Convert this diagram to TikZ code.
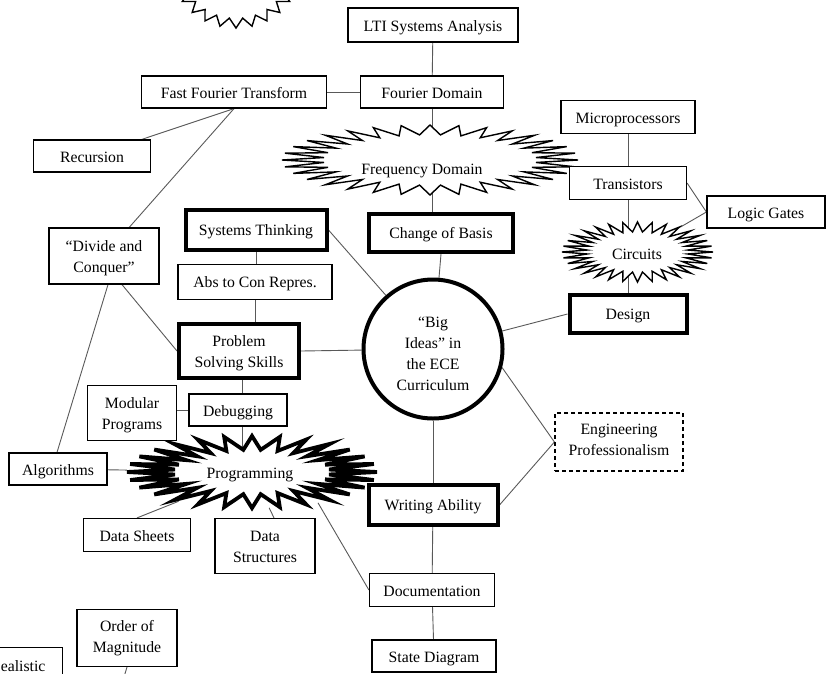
\documentclass[tikz,border=0pt]{standalone}
\usepackage{fontspec}
\setmainfont{Liberation Serif}
\usetikzlibrary{shapes.geometric}
\pgfdeclarelayer{background}
\pgfsetlayers{background,main}
\newcommand\burstshape[6]{%
  \pgfmathsetmacro\bxi{#2*#4}\pgfmathsetmacro\byi{#3*#4}%
  \begin{scope}[shift={(#1)}]
  \draw[#6] (#2,0) \foreach \j in {1,...,#5}{ -- ({\bxi*cos((\j-0.5)*360/#5)},{\byi*sin((\j-0.5)*360/#5)}) -- ({#2*cos(\j*360/#5)},{#3*sin(\j*360/#5)})} -- cycle;
  \end{scope}}
\begin{document}
\begin{tikzpicture}[x=1pt,y=-1pt,
  every node/.style={font=\fontsize{15.75}{20.7}\selectfont, align=center, inner sep=0pt},
  box/.style={draw, line width=1.2pt, fill=white, text height=13pt, text depth=0pt},
  bold/.style={draw, line width=4pt, fill=white, text height=10.5pt, text depth=0pt},
  two/.style={text height=32pt, text depth=0pt},
  dashbox/.style={draw, line width=1.2pt, fill=white, dash pattern=on 4pt off 3pt},
  sz/.style 2 args={minimum width=#1pt, minimum height=#2pt},
  link/.style={draw=black!65, line width=0.9pt},
  burstarea/.style 2 args={ellipse, minimum width=#1pt, minimum height=#2pt},
  thinburst/.style={draw=black, fill=white, line width=1.4pt, line join=miter},
  heavyburst/.style={draw=black, fill=white, line width=3.8pt, line join=miter}
]
\useasboundingbox (0,0) rectangle (834,673);

% boxes
\node[box,sz={170}{34}] (lti) at (433,25) {LTI Systems Analysis};
\node[box,sz={143}{32}] (fourier) at (432,92) {Fourier Domain};
\node[box,sz={185}{32}] (fft) at (234,92) {Fast Fourier Transform};
\node[box,sz={117}{32}] (rec) at (92,156) {Recursion};
\node[box,sz={134}{33}] (micro) at (628,117) {Microprocessors};
\node[box,sz={117}{33}] (trans) at (628,183) {Transistors};
\node[box,sz={118}{32}] (logic) at (766,212) {Logic Gates};
\node[bold,sz={117}{38}] (design) at (628,314) {Design};
\node[bold,sz={144}{38}] (basis) at (441,233) {Change of Basis};
\node[bold,sz={141}{40}] (systems) at (256,230) {Systems Thinking};
\node[box,sz={154}{35},text height=11pt] (abs) at (255,282) {Abs to Con Repres.};
\node[bold,two,sz={120}{54}] (problem) at (239,351) {Problem\\Solving Skills};
\node[circle,draw,line width=4pt,fill=white,minimum size=139pt,text height=82pt,text depth=0pt] (big) at (433,349) {“Big\\Ideas” in\\the ECE\\Curriculum};
\node[box,two,sz={110}{56}] (divide) at (104,256) {“Divide and\\Conquer”};
\node[box,two,sz={89}{55}] (modular) at (132,413) {Modular\\Programs};
\node[box,sz={98}{32}] (debug) at (238,410) {Debugging};
\node[box,sz={98}{32}] (algo) at (58,469) {Algorithms};
\node[box,sz={107}{33}] (sheets) at (137,535) {Data Sheets};
\node[box,two,sz={100}{55}] (struct) at (265,546) {Data\\Structures};
\node[box,sz={125}{33}] (doc) at (432,590) {Documentation};
\node[bold,sz={129}{40}] (writing) at (433,505) {Writing Ability};
\node[box,sz={124}{32}] (state) at (434,656) {State Diagram};
\node[dashbox,text height=26pt,text depth=0pt,sz={128}{58}] (eng) at (619,442) {Engineering\\Professionalism};
\node[box,text height=29pt,text depth=0pt,sz={100}{57}] (order) at (127,638) {Order of\\Magnitude};
\node[box,anchor=north east,inner xsep=17pt,minimum height=34pt] (real) at (63,647) {ealistic};

% starburst areas and labels
\node[burstarea={296}{70}] (freq) at (430,160) {};
\node[anchor=base] (freqtext) at (422,174) {Frequency Domain};
\node[burstarea={151}{60}] (circ) at (637.5,252) {};
\node[anchor=base] (circtext) at (637,259) {Circuits};
\node[burstarea={250}{72}] (prog) at (252,472) {};
\node[anchor=base] (progtext) at (250,478) {Programming};
\coordinate (tl) at (236,-25);
\coordinate (orderend) at (120,690);

\begin{pgfonlayer}{background}
\begin{scope}
\clip (0,0) rectangle (834,673);
% connectors
\draw[link] (lti) -- (fourier);
\draw[link] (fft) -- (fourier);
\draw[link] (fft.south) -- (rec);
\draw[link] (fft.south) -- (divide);
\draw[link] (fourier.south) -- (fourier.south |- basis.north);
\draw[link] (basis.south) -- (big);
\draw[link] (micro) -- (trans);
\draw[link] (trans) -- (design);
\draw[link] (trans.east) -- (logic.west);
\draw[link] (logic.west) -- (circ);
\draw[link] (design.west) -- (big);
\draw[link] (systems.east) -- (big);
\draw[link] (systems.south) -- (systems.south |- abs.north);
\draw[link] (abs.south) -- (abs.south |- problem.north);
\draw[link] (problem.east) -- (big);
\draw[link] ([xshift=18pt]divide.south) -- (problem.west);
\draw[link] ([xshift=4pt]divide.south) -- ([xshift=-1pt]algo.north);
\draw[link] ([xshift=3pt]problem.south) -- ([xshift=4pt]debug.north);
\draw[link] (modular.east |- debug) -- (debug.west);
\draw[link] ([xshift=4pt]debug.south) -- ([xshift=4pt]debug.south |- prog.center);
\draw[link] (algo) -- (prog);
\draw[link] (sheets.north) -- (prog);
\draw[link] ([xshift=9pt]struct.north) -- (prog);
\draw[link] (prog.-25) -- (doc.west);
\draw[link] (big) -- (writing);
\draw[link] (writing) -- (doc);
\draw[link] (doc) -- (state);
\draw[link] (big.-15) -- (eng.west);
\draw[link] (writing.east) -- (eng.west);
\draw[link] (order.south) -- (orderend);
% starbursts
\burstshape{freq}{148}{35}{0.72}{32}{thinburst}
\burstshape{circ}{75.5}{30}{0.67}{32}{thinburst}
\burstshape{prog}{125}{36}{0.62}{28}{heavyburst}
\burstshape{tl}{62}{53}{0.82}{24}{thinburst}
\end{scope}
\end{pgfonlayer}
\end{tikzpicture}
\end{document}
